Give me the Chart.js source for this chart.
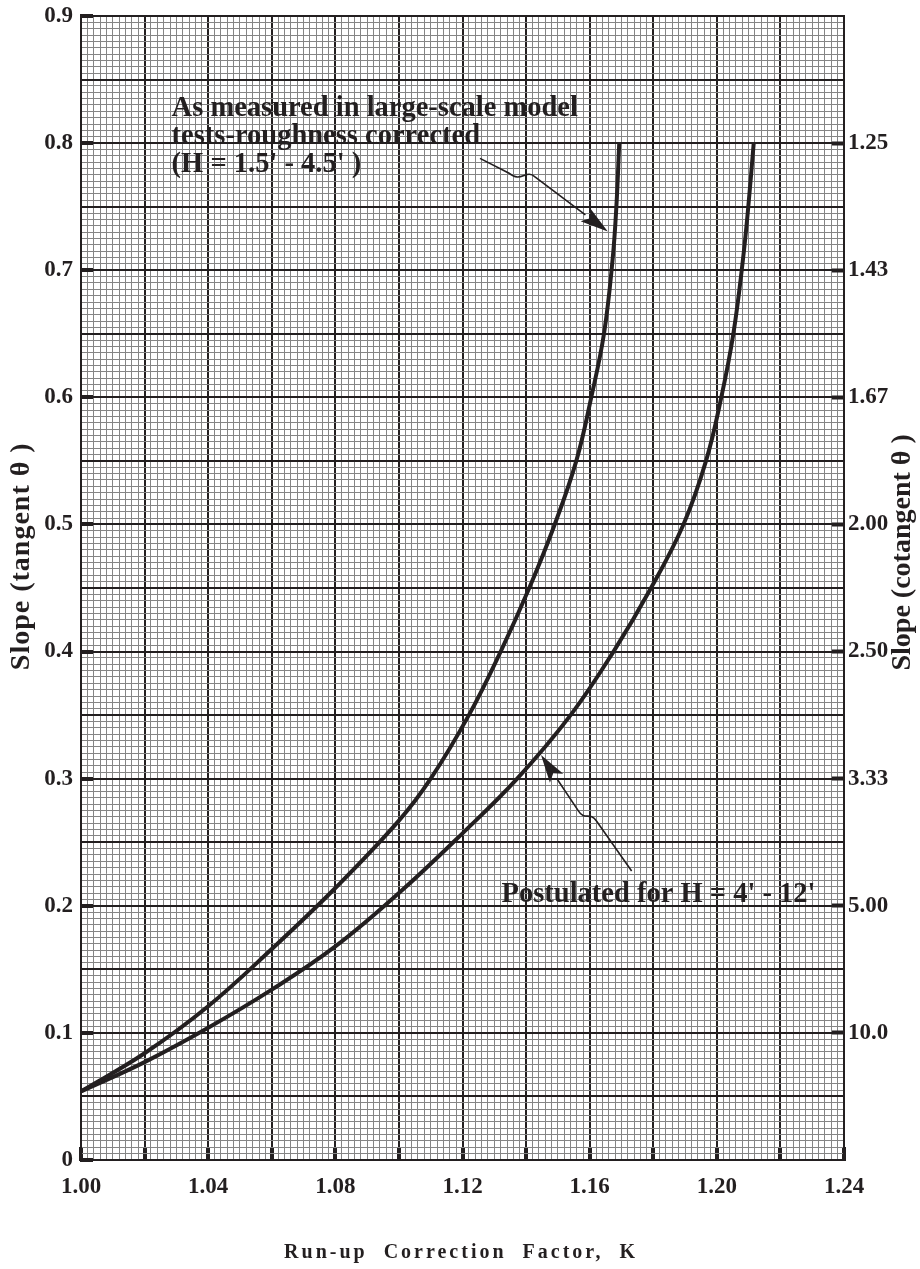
<!DOCTYPE html>
<html>
<head>
<meta charset="utf-8">
<script src="https://cdn.jsdelivr.net/npm/chart.js@4/dist/chart.umd.min.js"></script>
<style>
  html, body { margin: 0; padding: 0; background: #fff; }
  #wrap { width: 920px; height: 1269px; }
</style>
</head>
<body>
<div id="wrap"><canvas id="chart" width="920" height="1269"></canvas></div>
<script>
// run-up correction factor K vs slope (tan theta)
const measuredK     = [1.000, 1.020, 1.040, 1.060, 1.080, 1.100, 1.110, 1.122, 1.132, 1.141, 1.149, 1.1558, 1.1605, 1.1645, 1.1672, 1.1684, 1.1693];
const measuredSlope = [0.054, 0.084, 0.121, 0.166, 0.214, 0.267, 0.300, 0.350, 0.400, 0.450, 0.500, 0.550, 0.600, 0.650, 0.708, 0.750, 0.800];

const postulatedK     = [1.000, 1.020, 1.040, 1.060, 1.080, 1.100, 1.120, 1.1372, 1.1540, 1.1675, 1.1793, 1.1895, 1.1966, 1.2014, 1.2052, 1.2082, 1.2099, 1.2116];
const postulatedSlope = [0.054, 0.077, 0.104, 0.134, 0.168, 0.210, 0.257, 0.300, 0.350, 0.400, 0.450, 0.500, 0.550, 0.600, 0.650, 0.708, 0.750, 0.800];

// tick labels
const kTickLabels = ['1.00', '1.04', '1.08', '1.12', '1.16', '1.20', '1.24'];
const slopeTickLabels = ['0', '0.1', '0.2', '0.3', '0.4', '0.5', '0.6', '0.7', '0.8', '0.9'];
const cotTickLabels = ['', '10.0', '5.00', '3.33', '2.50', '2.00', '1.67', '1.43', '1.25', ''];

const INK = '#231f20';
const MINOR = '#858585';
const SERIF = '"Liberation Serif", "Times New Roman", serif';

function toPoints(xs, ys) {
    return xs.map((k, i) => ({x: k, y: ys[i]}));
}

// labels / leaders drawn on top of the grid, placed in data units
const notes = {
    measured: {x: 1.0285, y: 0.8215, lines: ['As measured in large-scale model', 'tests-roughness corrected', "(H = 1.5' - 4.5' )"]},
    postulated: {x: 1.1323, y: 0.2032, lines: ["Postulated for H = 4' - 12'"]}
};
const leaders = [
    {path: [[1.1255, 0.788], [1.1345, 0.7765]], curl: [[1.1385, 0.7680], [1.1400, 0.7800], [1.1428, 0.7734]], tip: [1.1657, 0.7304]},
    {path: [[1.1732, 0.2274], [1.1622, 0.2665]], curl: [[1.1600, 0.2745], [1.1585, 0.2665], [1.1565, 0.2745]], tip: [1.1447, 0.3187]}
];

function noPad(s) {
    s.paddingTop = 0;
    s.paddingBottom = 0;
}

function sideTitle(ctx, text, cx, cy, size, spacing) {
    ctx.save();
    ctx.fillStyle = INK;
    ctx.textAlign = 'center';
    ctx.textBaseline = 'middle';
    ctx.font = 'bold ' + size + 'px ' + SERIF;
    ctx.letterSpacing = spacing + 'px';
    ctx.translate(cx, cy);
    ctx.rotate(-Math.PI / 2);
    ctx.fillText(text, 0, 0);
    ctx.restore();
}

const overlay = {
    id: 'overlay',
    afterDatasetsDraw(chart) {
        const {ctx, scales: {x, y}} = chart;
        const px = v => x.getPixelForValue(v);
        const py = v => y.getPixelForValue(v);
        ctx.save();
        ctx.fillStyle = INK;
        ctx.strokeStyle = INK;

        // notes
        ctx.font = 'bold 28.5px ' + SERIF;
        ctx.textBaseline = 'alphabetic';
        ctx.textAlign = 'left';
        Object.values(notes).forEach(n => {
            n.lines.forEach((t, i) => ctx.fillText(t, px(n.x), py(n.y) + i * 28));
        });

        // leader arrows
        ctx.lineWidth = 1.6;
        leaders.forEach(l => {
            const [a, b] = l.path;
            const [c1, c2, e] = l.curl;
            ctx.beginPath();
            ctx.moveTo(px(a[0]), py(a[1]));
            ctx.lineTo(px(b[0]), py(b[1]));
            ctx.bezierCurveTo(px(c1[0]), py(c1[1]), px(c2[0]), py(c2[1]), px(e[0]), py(e[1]));
            const tx = px(l.tip[0]), ty = py(l.tip[1]);
            const ex = px(e[0]), ey = py(e[1]);
            const ang = Math.atan2(ty - ey, tx - ex);
            const len = 28, half = 8;
            const bx = tx - Math.cos(ang) * len, by = ty - Math.sin(ang) * len;
            ctx.lineTo(bx, by);
            ctx.stroke();
            ctx.beginPath();
            ctx.moveTo(tx, ty);
            ctx.lineTo(bx + Math.sin(ang) * half, by - Math.cos(ang) * half);
            ctx.lineTo(bx + Math.cos(ang) * 6, by + Math.sin(ang) * 6);
            ctx.lineTo(bx - Math.sin(ang) * half, by + Math.cos(ang) * half);
            ctx.closePath();
            ctx.fill();
        });
        ctx.restore();

        // side titles read bottom to top
        sideTitle(ctx, 'Slope (tangent \u03b8 )', 22, py(0.475), 28, 1);
        sideTitle(ctx, 'Slope (cotangent \u03b8 )', 903, py(0.478), 28, 0);

        ctx.save();
        ctx.fillStyle = INK;
        ctx.font = 'bold 20px ' + SERIF;
        ctx.letterSpacing = '3px';
        ctx.textAlign = 'center';
        ctx.textBaseline = 'middle';
        ctx.fillText('Run-up  Correction  Factor,  K', 461, 1253);
        ctx.restore();
    }
};

const curveStyle = {
    showLine: true,
    borderColor: INK,
    borderWidth: 4,
    pointRadius: 0,
    tension: 0.4,
    fill: false
};

new Chart(document.getElementById('chart').getContext('2d'), {
    type: 'scatter',
    data: {
        datasets: [
            {label: 'As measured (H = 1.5\' - 4.5\')', data: toPoints(measuredK, measuredSlope), ...curveStyle},
            {label: 'Postulated (H = 4\' - 12\')', data: toPoints(postulatedK, postulatedSlope), ...curveStyle}
        ]
    },
    options: {
        responsive: false,
        animation: false,
        devicePixelRatio: 1,
        layout: {padding: {top: 16, left: 0, right: 0, bottom: 0}},
        plugins: {legend: {display: false}, tooltip: {enabled: false}},
        scales: {
            x: {
                type: 'linear',
                position: 'bottom',
                min: 1.0,
                max: 1.24,
                afterFit: s => { s.height = 109; },
                border: {display: true, color: INK, width: 2},
                grid: {
                    color: c => c.index % 10 === 0 ? INK : MINOR,
                    lineWidth: c => c.index % 10 === 0 ? 2 : 1,
                    tickLength: -13,
                    tickWidth: 4,
                    tickColor: c => c.index % 10 === 0 ? INK : 'rgba(0,0,0,0)'
                },
                ticks: {
                    stepSize: 0.002,
                    autoSkip: false,
                    maxRotation: 0,
                    minRotation: 0,
                    padding: 26,
                    color: INK,
                    font: {family: SERIF, weight: 'bold', size: 23},
                    callback: (v, i) => i % 20 === 0 ? kTickLabels[i / 20] : ''
                }
            },
            y: {
                type: 'linear',
                position: 'left',
                min: 0,
                max: 0.9,
                afterFit: s => { s.width = 81; noPad(s); },
                border: {display: true, color: INK, width: 2},
                grid: {
                    color: c => c.index % 10 === 0 ? INK : MINOR,
                    lineWidth: c => c.index % 10 === 0 ? 2 : 1,
                    tickLength: -12,
                    tickWidth: 4,
                    tickColor: c => c.index % 20 === 0 ? INK : 'rgba(0,0,0,0)'
                },
                ticks: {
                    stepSize: 0.005,
                    autoSkip: false,
                    padding: 20,
                    color: INK,
                    font: {family: SERIF, weight: 'bold', size: 23},
                    callback: (v, i) => i % 20 === 0 ? slopeTickLabels[i / 20] : ''
                }
            },
            y2: {
                type: 'linear',
                position: 'right',
                min: 0,
                max: 0.9,
                afterFit: s => { s.width = 76; noPad(s); },
                border: {display: true, color: INK, width: 2},
                grid: {
                    drawOnChartArea: false,
                    tickLength: -12,
                    tickWidth: 4,
                    tickColor: c => (c.index > 0 && c.index < 9) ? INK : 'rgba(0,0,0,0)'
                },
                ticks: {
                    stepSize: 0.1,
                    autoSkip: false,
                    padding: 16,
                    color: INK,
                    font: {family: SERIF, weight: 'bold', size: 23},
                    callback: (v, i) => cotTickLabels[i] || ''
                }
            }
        }
    },
    plugins: [overlay]
});
</script>
</body>
</html>
